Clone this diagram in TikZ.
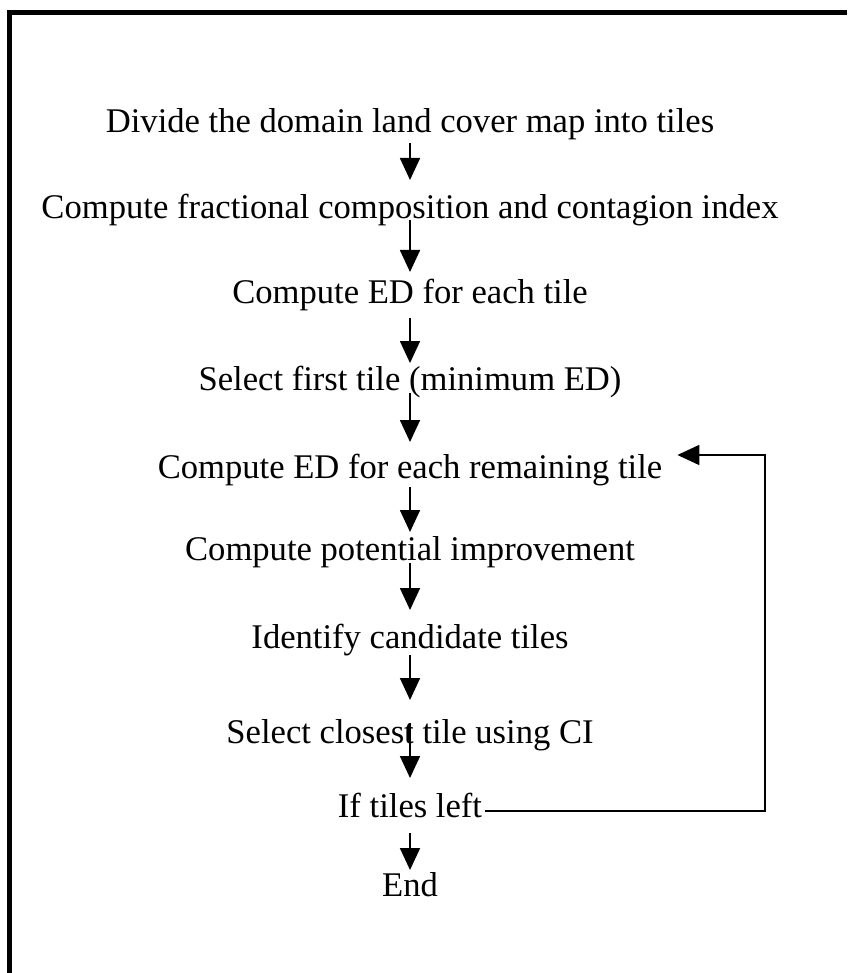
\documentclass[tikz,border=0pt]{standalone}
\usepackage{fontspec}
\setmainfont{Liberation Serif}
\usetikzlibrary{arrows.meta}
\begin{document}
\begin{tikzpicture}[x=1pt,y=-1pt,
  lbl/.style={anchor=base,inner sep=0pt,font=\fontsize{34.6}{40}\selectfont},
  arr/.style={line width=1.8pt,-{Triangle[length=22pt,width=20pt]}},
  frame/.style={line width=5pt,line join=miter}]
\useasboundingbox (0,0) rectangle (847,973);
\draw[frame] (9.7,973) -- (9.7,12.5) -- (847,12.5);
\node[lbl] (n1) at (410,133) {Divide the domain land cover map into tiles};
\node[lbl] (n2) at (410,219) {Compute fractional composition and contagion index};
\node[lbl] (n3) at (410,303) {Compute ED for each tile};
\node[lbl] (n4) at (410,390) {Select first tile (minimum ED)};
\node[lbl] (n5) at (410,478) {Compute ED for each remaining tile};
\node[lbl] (n6) at (410,560) {Compute potential improvement};
\node[lbl] (n7) at (410,648) {Identify candidate tiles};
\node[lbl] (n8) at (410,743) {Select closest tile using CI};
\node[lbl] (n9) at (410,817) {If tiles left};
\node[lbl] (n10) at (410,896) {End};
\coordinate (loopx) at (765,0);
\draw[arr] ([yshift=-10pt]n1.base) -- ([yshift=39pt]n2.base);
\draw[arr] ([yshift=-1pt]n2.base) -- ([yshift=31pt]n3.base);
\draw[arr] ([yshift=-15pt]n3.base) -- ([yshift=27pt]n4.base);
\draw[arr] ([yshift=-3pt]n4.base) -- ([yshift=36pt]n5.base);
\draw[arr] ([yshift=-9pt]n5.base) -- ([yshift=28pt]n6.base);
\draw[arr] ([yshift=-3pt]n6.base) -- ([yshift=38pt]n7.base);
\draw[arr] ([yshift=-7pt]n7.base) -- ([yshift=43pt]n8.base);
\draw[arr] ([yshift=20pt]n8.base) -- ([yshift=39pt]n9.base);
\draw[arr] ([yshift=-16pt]n9.base) -- ([yshift=26pt]n10.base);
\coordinate (ls) at ([xshift=3pt,yshift=6pt]n9.base east);
\coordinate (lt) at ([xshift=15pt,yshift=23pt]n5.base east);
\draw[arr] (ls) -- (ls -| loopx) |- (lt);
\end{tikzpicture}
\end{document}
